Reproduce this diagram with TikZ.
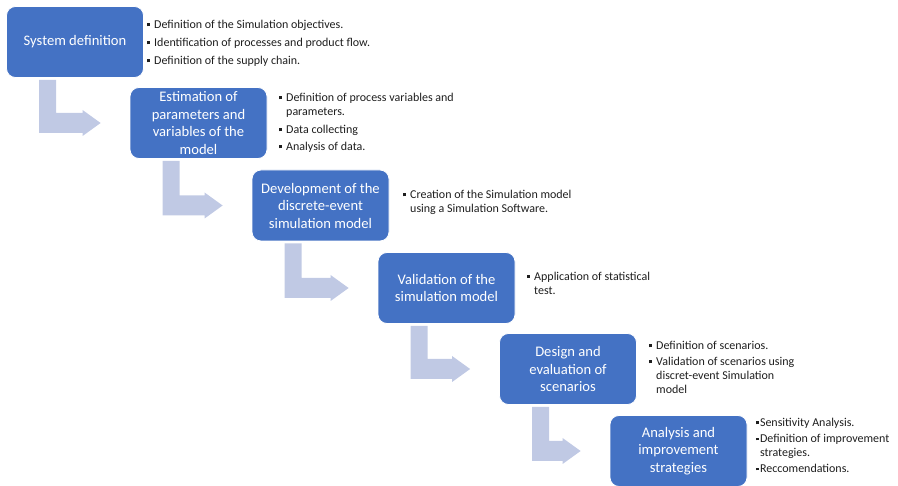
\documentclass[tikz,border=0pt]{standalone}
\usepackage{fontspec}
\setmainfont{Carlito}
\usetikzlibrary{calc}

\definecolor{stepblue}{RGB}{68,114,196}
\definecolor{arrowtint}{RGB}{192,201,228}
\definecolor{notetext}{RGB}{30,30,30}

% small square bullet used in the note lists
\newcommand\sqbullet{\rule[2.3pt]{3pt}{3pt}}
% #1 gap between bullet and text, #2 tabular rows
\newcommand\notelist[2]{{\fontsize{12}{14}\selectfont
  \begin{tabular}{@{}l@{\hspace{#1}}l@{}}#2\end{tabular}}}
% bent block arrow from the bottom of one step into the next step
\newcommand\flowarrow[2]{%
  \fill[flowarrow] ($(#1.south west)+(33,2)$) -- ($(#1.south west)+(50,2)$)
    |- ($(#2.west)+(-47,-10)$) -- ($(#2.west)+(-47,-13)$)
    -- ($(#2.west)+(-29,0)$) -- ($(#2.west)+(-47,13)$)
    -- ($(#2.west)+(-47,10)$) -| ($(#1.south west)+(33,2)$) -- cycle;}

\begin{document}
\begin{tikzpicture}[x=1pt,y=-1pt,
  stepbox/.style={fill=stepblue, draw=white, line width=0.8pt,
    rounded corners=9pt, minimum width=137pt, minimum height=71pt,
    text=white, align=center, inner sep=0pt,
    font=\fontsize{14.6}{17.5}\selectfont},
  notes/.style={anchor=west, inner sep=0pt, text=notetext},
  flowarrow/.style={fill=arrowtint}]
\useasboundingbox (0,0) rectangle (898,486);

% process steps
\node[stepbox] (s1) at (75,42) {System definition};
\node[stepbox] (s2) at (198.5,123) {Estimation of\\parameters and\\variables of the\\model};
\node[stepbox] (s3) at (320.5,205.5) {Development of the\\discrete-event\\simulation model};
\node[stepbox] (s4) at (446.5,288) {Validation of the\\simulation model};
\node[stepbox] (s5) at (568,369) {Design and\\evaluation of\\scenarios};
\node[stepbox] (s6) at (678.5,451) {Analysis and\\improvement\\strategies};

% arrows between consecutive steps
\flowarrow{s1}{s2}
\flowarrow{s2}{s3}
\flowarrow{s3}{s4}
\flowarrow{s4}{s5}
\flowarrow{s5}{s6}

% activities of each step
\node[notes] (n1) at (147,44) {\notelist{4pt}{%
  \sqbullet & Definition of the Simulation objectives.\\[4pt]
  \sqbullet & Identification of processes and product flow.\\[4pt]
  \sqbullet & Definition of the supply chain.}};
\node[notes] (n2) at (279,123.5) {\notelist{4pt}{%
  \sqbullet & Definition of process variables and\\
            & parameters.\\[4pt]
  \sqbullet & Data collecting\\[3pt]
  \sqbullet & Analysis of data.}};
\node[notes] (n3) at (403,203) {\notelist{4pt}{%
  \sqbullet & Creation of the Simulation model\\
            & using a Simulation Software.}};
\node[notes] (n4) at (527,284.5) {\notelist{4pt}{%
  \sqbullet & Application of statistical\\
            & test.}};
\node[notes] (n5) at (649,369) {\notelist{4pt}{%
  \sqbullet & Definition of scenarios.\\[2pt]
  \sqbullet & Validation of scenarios using\\
            & discret-event Simulation\\
            & model}};
\node[notes] (n6) at (756,447) {\notelist{0.8pt}{%
  \sqbullet & Sensitivity Analysis.\\[2pt]
  \sqbullet & Definition of improvement\\
            & strategies.\\[2pt]
  \sqbullet & Reccomendations.}};
\end{tikzpicture}
\end{document}
